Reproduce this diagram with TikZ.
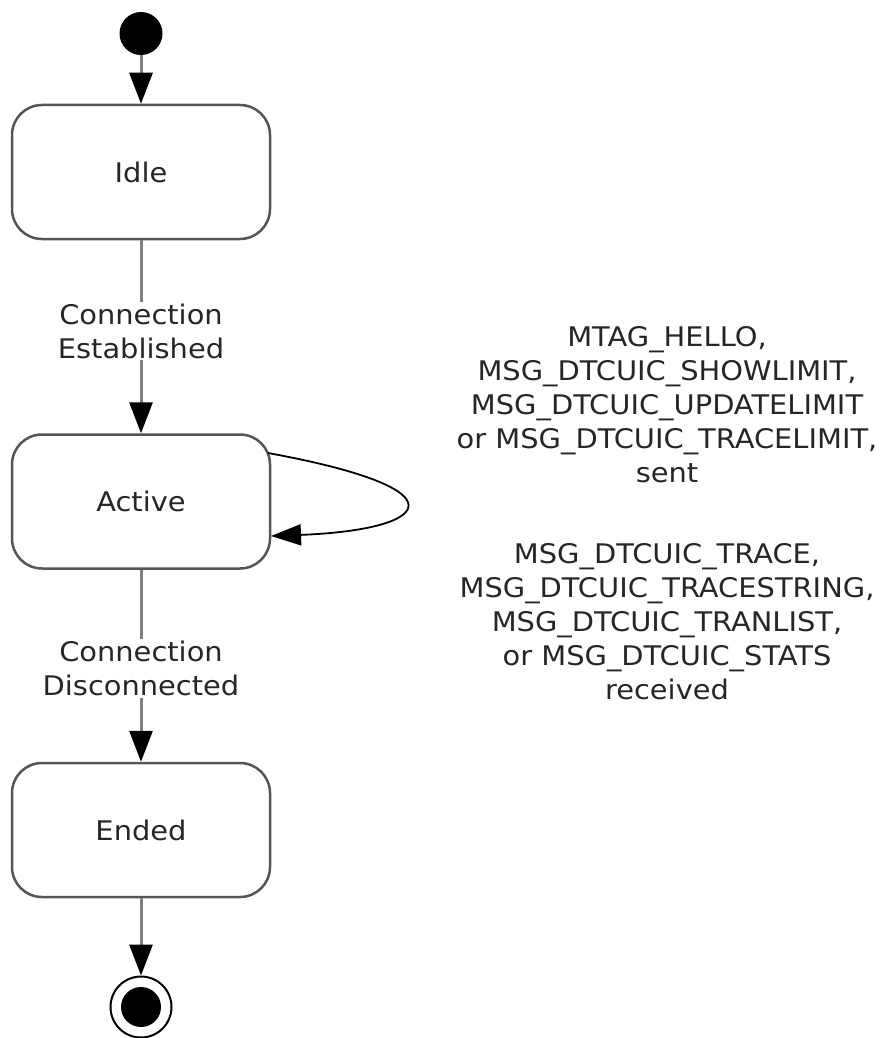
\documentclass[tikz,border=0pt]{standalone}
\usepackage{fontspec}
\setmainfont{DejaVu Sans}[FakeStretch=1.07]
\usetikzlibrary{arrows.meta}
\definecolor{txt}{HTML}{262626}
\definecolor{border}{HTML}{555555}
\definecolor{conncol}{HTML}{808080}
\begin{document}
\begin{tikzpicture}[x=1pt,y=-1pt,
  every node/.style={font=\fontsize{27}{34}\selectfont, text=txt},
  state/.style={draw=border, line width=2.5pt, fill=white, rounded corners=30pt,
    minimum width=258pt, minimum height=134pt, inner sep=0pt},
  conn/.style={draw=conncol, line width=3pt, -{Triangle[length=31pt,width=23pt,color=black,fill=black]}},
  loopconn/.style={draw=black, line width=1.8pt, -{Triangle[length=30pt,width=21pt,color=black,fill=black]}},
  lbl/.style={fill=white, align=center, inner sep=2pt},
  note/.style={align=center, inner sep=0pt}]
\useasboundingbox (0,0) rectangle (887,1038);
\node[circle, fill=black, minimum size=43pt, inner sep=0pt] (start) at (141,33.5) {};
\node[state] (idle) at (141,172) {Idle};
\node[state] (active) at (141,501.5) {Active};
\node[state] (ended) at (141,830) {Ended};
\node[circle, draw=black, line width=2pt, fill=white, minimum size=61pt, inner sep=0pt] (final) at (141,1007) {};
\node[circle, fill=black, minimum size=40pt, inner sep=0pt] (finalin) at (final.center) {};
\draw[conn] (start) -- (idle);
\draw[conn] (idle) -- node[lbl, pos=0.47] {Connection\\Established} (active);
\draw[conn] (active) -- node[lbl, pos=0.515] {Connection\\Disconnected} (ended);
\draw[conn] (ended) -- (final);
\coordinate (loopout) at (268,453);
\coordinate (loopin) at (271,536);
\draw[loopconn] (loopout) .. controls (470,490) and (430,530) .. (loopin);
\node[note] (sentnote) at (667,405) {MTAG\_HELLO,\\MSG\_DTCUIC\_SHOWLIMIT,\\MSG\_DTCUIC\_UPDATELIMIT\\or MSG\_DTCUIC\_TRACELIMIT,\\sent};
\node[note] (recvnote) at (667,622) {MSG\_DTCUIC\_TRACE,\\MSG\_DTCUIC\_TRACESTRING,\\MSG\_DTCUIC\_TRANLIST,\\or MSG\_DTCUIC\_STATS\\received};
\end{tikzpicture}
\end{document}
